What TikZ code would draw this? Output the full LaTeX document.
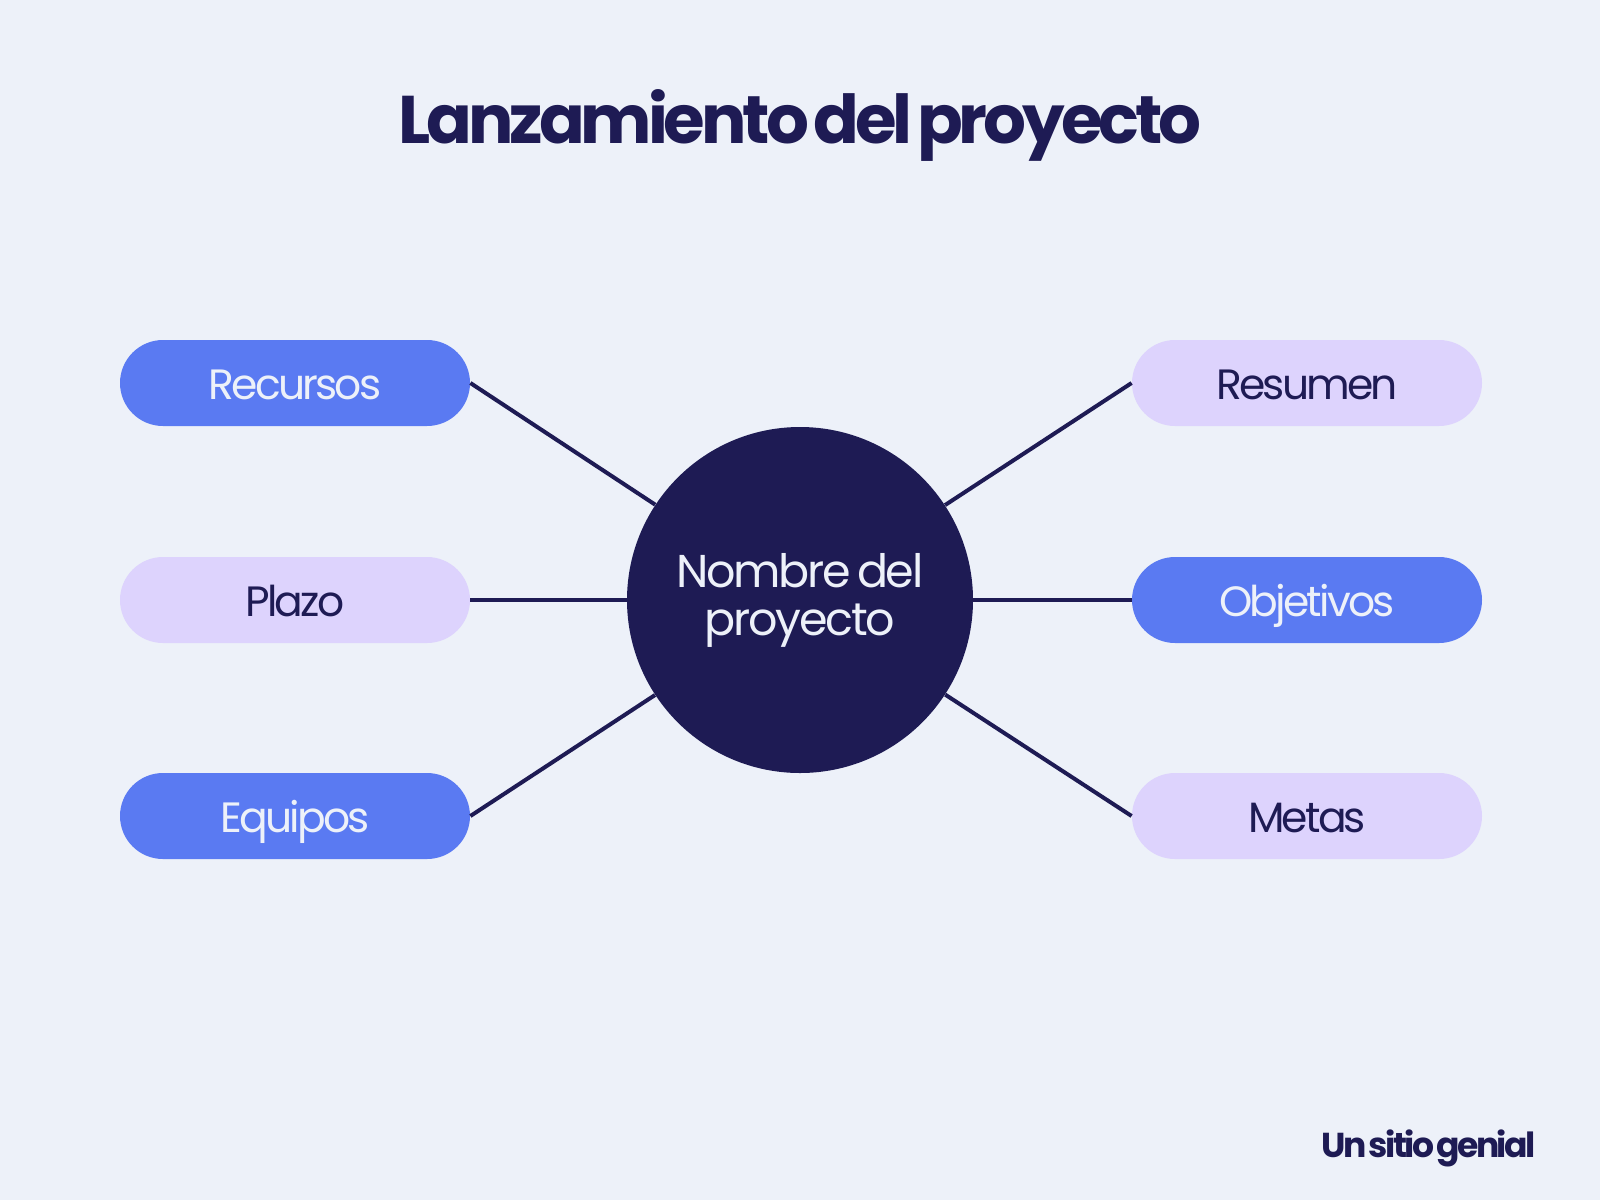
\documentclass[tikz,border=0pt]{standalone}
\usepackage{fontspec}
\setmainfont{Poppins}
\newfontfamily\popcirc[LetterSpace=-5,WordSpace=0.6]{Poppins}
\newfontfamily\popreg[LetterSpace=-6.5,WordSpace=0.6]{Poppins}
\newfontfamily\popbold[LetterSpace=-6,WordSpace=0.45,UprightFont=* Bold]{Poppins}
\newfontfamily\popfoot[LetterSpace=-7.5,WordSpace=0.5,UprightFont=* Bold]{Poppins}
\definecolor{bgc}{HTML}{EDF1F9}
\definecolor{navy}{HTML}{1E1B54}
\definecolor{blu}{HTML}{5A7AF2}
\definecolor{lav}{HTML}{DDD3FD}
\tikzset{
  pill/.style={rounded corners=21.5pt, minimum width=175pt, minimum height=43pt, inner sep=0pt, text height=16pt, text depth=0pt, font=\popreg\fontsize{21.2}{24}\selectfont},
  pillblue/.style={pill, fill=blu, text=bgc},
  pilllav/.style={pill, fill=lav, text=navy},
  conn/.style={draw=navy, line width=2pt},
}
\begin{document}
\begin{tikzpicture}[x=0.5pt,y=-0.5pt]
\fill[bgc] (0,0) rectangle (1600,1200);
\useasboundingbox (0,0) rectangle (1600,1200);
\node[font=\popbold\fontsize{33.7}{40}\selectfont, text=navy, anchor=base, inner sep=0pt] (title) at (800,143) {Lanzamiento del proyecto};
\node[circle, fill=navy, minimum size=173pt, inner sep=0pt, text=bgc, align=center, font=\popcirc\fontsize{23}{24}\selectfont] (c) at (800,600) {Nombre del\\proyecto};
\node[pillblue] (rec) at (295,383) {Recursos};
\node[pilllav] (pla) at (295,600) {Plazo};
\node[pillblue] (equ) at (295,816) {Equipos};
\node[pilllav] (res) at (1307,383) {Resumen};
\node[pillblue] (obj) at (1307,600) {Objetivos};
\node[pilllav] (met) at (1307,816) {Metas};
\foreach \n in {rec,pla,equ}{\draw[conn] (\n.east) -- (c);}
\foreach \n in {res,obj,met}{\draw[conn] (\n.west) -- (c);}
\node[font=\popfoot\fontsize{17.3}{20}\selectfont, text=navy, anchor=base east, inner sep=0pt] (foot) at (1536,1157) {Un sitio genial};
\end{tikzpicture}
\end{document}
